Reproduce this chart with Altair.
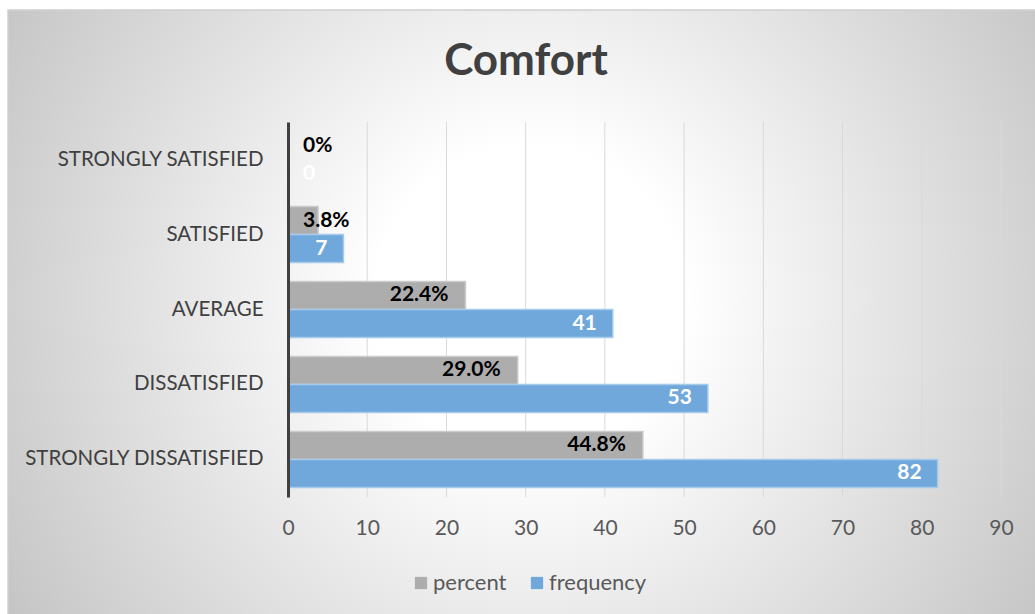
import altair as alt
import pandas as pd

# Survey results for the "Comfort" question
categories = [
    "STRONGLY SATISFIED",
    "SATISFIED",
    "AVERAGE",
    "DISSATISFIED",
    "STRONGLY DISSATISFIED",
]
frequency = [0, 7, 41, 53, 82]
percent = [0.0, 3.8, 22.4, 29.0, 44.8]
series_names = ["percent", "frequency"]
x_ticks = [0, 10, 20, 30, 40, 50, 60, 70, 80, 90]

FONT = "Lato"
W, H = 713, 375

rows = []
for cat, f, p in zip(categories, frequency, percent):
    rows.append({"category": cat, "series": "percent", "value": p,
                 "label": "0%" if p == 0 else f"{p:.1f}%"})
    rows.append({"category": cat, "series": "frequency", "value": f,
                 "label": str(f)})
df = pd.DataFrame(rows)

x_scale = alt.Scale(domain=[0, 90], nice=False, zero=True)
y_scale = alt.Scale(domain=categories, paddingInner=0.2533, paddingOuter=0.1267)
off_scale = alt.Scale(domain=series_names, paddingInner=0, paddingOuter=0)

y_enc = alt.Y("category:N", sort=categories, scale=y_scale, title=None)
off_enc = alt.YOffset("series:N", sort=series_names, scale=off_scale)

# radial grey-to-white backdrop behind the whole chart
backdrop = alt.RadialGradient(
    gradient="radial",
    stops=[
        alt.GradientStop(offset=0, color="#ffffff"),
        alt.GradientStop(offset=0.25, color="#ffffff"),
        alt.GradientStop(offset=1, color="#c4c4c4"),
    ],
    x1=0.5, y1=0.5, r1=0, x2=0.5, y2=0.5, r2=0.55,
)
one = pd.DataFrame({"k": [0]})
bg = alt.Chart(one).mark_rect(fill=backdrop, strokeWidth=0).encode(
    x=alt.value(-318), x2=alt.value(802), y=alt.value(-382), y2=alt.value(738)
)
cover_top = alt.Chart(one).mark_rect(fill="white", strokeWidth=0).encode(
    x=alt.value(-300), x2=alt.value(800), y=alt.value(-130), y2=alt.value(-112)
)
cover_left = alt.Chart(one).mark_rect(fill="white", strokeWidth=0).encode(
    x=alt.value(-300), x2=alt.value(-280), y=alt.value(-130), y2=alt.value(520)
)
frame = alt.Chart(one).mark_rect(fillOpacity=0, stroke="#d0d0d0", strokeWidth=1.5).encode(
    x=alt.value(-280), x2=alt.value(800), y=alt.value(-112), y2=alt.value(520)
)

# vertical gridlines
grid = alt.Chart(pd.DataFrame({"t": x_ticks[1:]})).mark_rule(
    color="#d9d9d9", strokeWidth=1
).encode(x=alt.X("t:Q", scale=x_scale), y=alt.value(0), y2=alt.value(H))

bars = alt.Chart(df).mark_bar(strokeWidth=1.5).encode(
    x=alt.X("value:Q", scale=x_scale, title=None,
            axis=alt.Axis(values=x_ticks, grid=False, domain=False, ticks=False,
                          labelFlush=False, labelFontSize=21, labelColor="#595959",
                          labelPadding=20, labelFont=FONT, zindex=1)),
    y=alt.Y("category:N", sort=categories, scale=y_scale, title=None,
            axis=alt.Axis(domain=True, domainColor="#404040", domainWidth=3,
                          ticks=False, grid=False, labelFontSize=20.5,
                          labelColor="#404040", labelPadding=25, labelFont=FONT,
                          labelLimit=400, zindex=1)),
    yOffset=off_enc,
    color=alt.Color("series:N", sort=series_names,
                    scale=alt.Scale(domain=series_names, range=["#adadad", "#70a8dc"]),
                    legend=alt.Legend(title=None, orient="none", direction="horizontal",
                                      legendX=122, legendY=450, symbolType="square",
                                      symbolSize=150, symbolStrokeWidth=0,
                                      labelFontSize=22, labelColor="#595959",
                                      labelFont=FONT, labelOffset=1, columnPadding=19,
                                      padding=0)),
    stroke=alt.Stroke("series:N", sort=series_names,
                      scale=alt.Scale(domain=series_names, range=["#cbcbcb", "#a7caea"]),
                      legend=None),
)

text_base = alt.Chart(df)
pct_big = text_base.transform_filter(
    "datum.series == 'percent' && datum.value >= 10"
).mark_text(align="right", baseline="middle", dx=-17, fontSize=21,
            fontWeight="bold", color="#000000", font=FONT).encode(
    x=alt.X("value:Q", scale=x_scale), y=y_enc, yOffset=off_enc, text="label:N")
pct_small = text_base.transform_filter(
    "datum.series == 'percent' && datum.value < 10"
).mark_text(align="left", baseline="middle", dx=15, fontSize=21,
            fontWeight="bold", color="#000000", font=FONT).encode(
    x=alt.datum(0, scale=x_scale), y=y_enc, yOffset=off_enc, text="label:N")
freq_big = text_base.transform_filter(
    "datum.series == 'frequency' && datum.value > 0"
).mark_text(align="right", baseline="middle", dx=-16, fontSize=21,
            fontWeight="bold", color="#ffffff", font=FONT).encode(
    x=alt.X("value:Q", scale=x_scale), y=y_enc, yOffset=off_enc, text="label:N")
freq_zero = text_base.transform_filter(
    "datum.series == 'frequency' && datum.value == 0"
).mark_text(align="left", baseline="middle", dx=15, fontSize=21,
            fontWeight="bold", color="#ffffff", font=FONT).encode(
    x=alt.datum(0, scale=x_scale), y=y_enc, yOffset=off_enc, text="label:N")

title = alt.Chart(pd.DataFrame({"t": ["Comfort"]})).mark_text(
    fontSize=44, fontWeight="bold", color="#404040", font=FONT,
    align="center", baseline="middle"
).encode(x=alt.value(238), y=alt.value(-60), text="t:N")

chart = alt.layer(
    bg, cover_top, cover_left, frame, grid, bars,
    pct_big, pct_small, freq_big, freq_zero, title
).properties(
    width=W, height=H,
    autosize=alt.AutoSizeParams(type="none"),
    padding={"left": 288, "top": 122, "right": 34, "bottom": 117},
    background="white",
).configure_view(stroke=None).configure(font=FONT)

chart.save("out.html", embed_options={"renderer": "svg", "actions": False})
